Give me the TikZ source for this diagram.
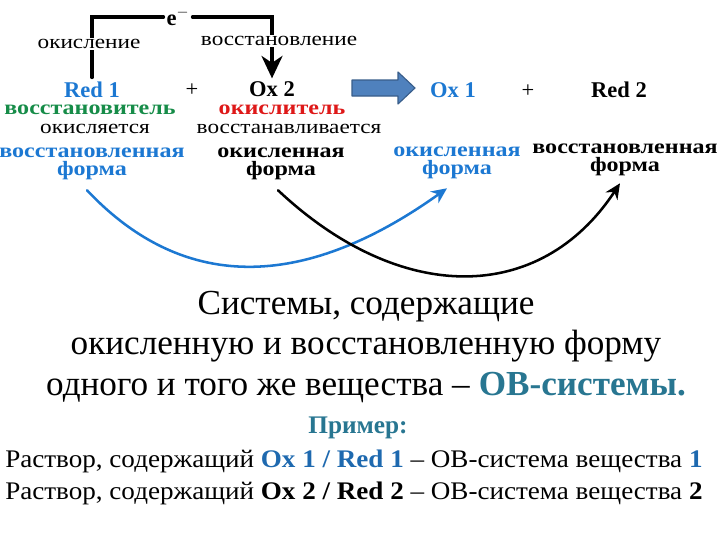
\documentclass[tikz,border=0pt]{standalone}
\usepackage{fontspec}
\setmainfont{Liberation Serif}
\newfontfamily\widecyr[FakeStretch=1.18,Ligatures=TeX]{Liberation Serif}
\newfontfamily\widerow[FakeStretch=1.07,Ligatures=TeX]{Liberation Serif}
\usetikzlibrary{arrows.meta}
\definecolor{formblue}{RGB}{28,120,210}
\definecolor{rolegreen}{RGB}{22,140,72}
\definecolor{rolered}{RGB}{222,24,24}
\definecolor{systeal}{RGB}{40,118,145}
\definecolor{pairblue}{RGB}{30,105,175}
\definecolor{bigarrow}{RGB}{79,129,189}
\definecolor{bigarrowline}{RGB}{56,93,138}

\begin{document}
\begin{tikzpicture}[x=0.025cm,y=-0.025cm,line cap=round,
  species/.style={font=\fontsize{16}{18}\selectfont\bfseries,inner sep=0pt},
  role/.style={font=\widecyr\fontsize{14.5}{16}\selectfont\bfseries,inner sep=0pt},
  verb/.style={font=\widecyr\fontsize{14}{16}\selectfont,inner sep=0pt},
  formtext/.style={align=center,font=\widecyr\fontsize{14.5}{12.8}\selectfont\bfseries,inner sep=0pt},
  onbracket/.style={font=\widecyr\fontsize{14}{16}\selectfont,fill=white,inner sep=1pt},
  bracket/.style={line width=2.2pt},
  swap/.style={line width=1.8pt,-{Stealth[length=11pt,width=10pt]}}]
\useasboundingbox (0,0) rectangle (720,540);

% left side of the reaction
\node[species,text=formblue] (red1) at (92,90) {Red 1};
\node[species,font=\fontsize{16}{18}\selectfont] (plus1) at (192,90) {+};
\node[species] (ox2) at (272,89) {Ox 2};
\node[role,text=rolegreen] (red1role) at (90,110) {восстановитель};
\node[role,text=rolered] (ox2role) at (282,110) {окислитель};
\node[verb] (red1verb) at (95,129) {окисляется};
\node[verb] (ox2verb) at (289,129) {восстанавливается};
\node[formtext,text=formblue] (red1form) at (92,164) {восстановленная\\форма};
\node[formtext] (ox2form) at (281,164) {окисленная\\форма};

% right side of the reaction
\node[species,text=formblue] (ox1) at (453,90) {Ox 1};
\node[species,font=\fontsize{16}{18}\selectfont] (plus2) at (528,91) {+};
\node[species] (red2) at (619,90) {Red 2};
\node[formtext,text=formblue] (ox1form) at (457,163) {окисленная\\форма};
\node[formtext] (red2form) at (625,160) {восстановленная\\форма};

% block arrow
\fill[bigarrow,draw=bigarrowline,line width=0.8pt,line join=round]
  (352,80) -- (398,80) -- (398,72) -- (415,88) -- (398,104) -- (398,96) -- (352,96) -- cycle;

% electron transfer
\node[species,inner sep=2pt] (e) at (178,17) {e$^{-}$};
\draw[bracket] ([yshift=3pt]red1.north) |- (e.west);
\draw[bracket,-{Stealth[length=16pt,width=15pt,inset=5pt]}] (e.east) -| ([yshift=2pt]ox2.north);
\node[onbracket] (oxid) at (89,44) {окисление};
\node[onbracket] (reduc) at (279,41) {восстановление};

% conjugated pairs
\draw[swap,formblue] ([shift={(-5,10)}]red1form.south) .. controls (200,310) and (330,272) .. ([shift={(-10,9)}]ox1form.south);
\draw[swap] ([shift={(-3,10)}]ox2form.south) .. controls (400,305) and (540,305) .. ([shift={(-5,7)}]red2form.south);

% text below
\node[align=center,font=\fontsize{25}{29}\selectfont] (systems) at (366,347)
  {Системы, содержащие\\окисленную и восстановленную форму\\одного и того же вещества – \textbf{\textcolor{systeal}{ОВ-системы.}}};
\node[font=\fontsize{18}{20}\selectfont\bfseries,text=systeal] (example) at (358,428) {Пример:};
\node[anchor=north west,align=left,inner sep=0pt,font=\widerow\fontsize{18}{22.7}\selectfont] (solutions) at (5,450)
  {Раствор, содержащий \textbf{\textcolor{pairblue}{Ox 1 / Red 1}} – ОВ-система вещества \textbf{\textcolor{pairblue}{1}}\\
   Раствор, содержащий \textbf{Ox 2 / Red 2} – ОВ-система вещества \textbf{2}};
\end{tikzpicture}
\end{document}
